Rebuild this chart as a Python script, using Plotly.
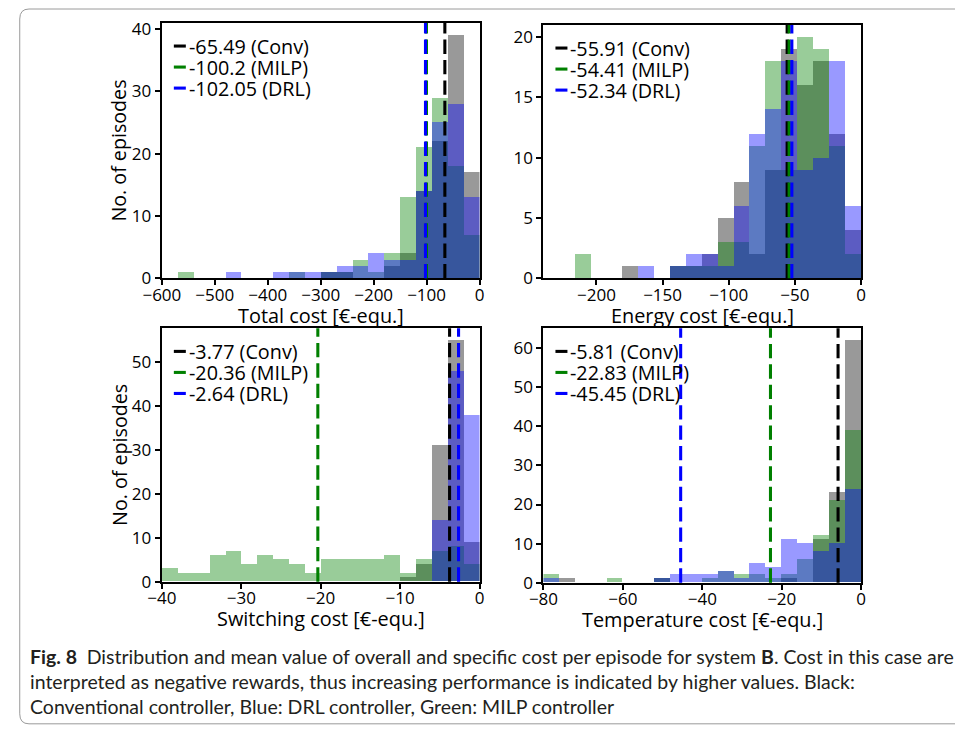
import numpy as np
import plotly.graph_objects as go

# ---- histogram data: 20 equal bins between the lower limit and 0 ----
total_limits = (-600, 0)
energy_limits = (-240, 0)
switch_limits = (-40, 0)
temp_limits = (-80, 0)

# episode counts per bin (left to right)
total_conv = [0, 0, 0, 0, 0, 0, 0, 0, 0, 0, 1, 1, 0, 0, 2, 4, 14, 22, 39, 17]
total_milp = [0, 1, 0, 0, 0, 0, 0, 0, 1, 0, 1, 1, 3, 1, 4, 13, 21, 29, 18, 7]
total_drl = [0, 0, 0, 0, 1, 0, 0, 1, 1, 1, 1, 2, 2, 4, 3, 3, 14, 25, 28, 13]

energy_conv = [0, 0, 0, 0, 0, 1, 0, 0, 1, 1, 2, 5, 8, 2, 9, 19, 16, 18, 12, 4]
energy_milp = [0, 0, 2, 0, 0, 0, 0, 0, 1, 1, 1, 3, 3, 11, 18, 9, 20, 19, 11, 2]
energy_drl = [0, 0, 0, 0, 0, 0, 1, 0, 1, 2, 2, 1, 6, 12, 14, 18, 9, 10, 18, 6]

switch_conv = [0, 0, 0, 0, 0, 0, 0, 0, 0, 0, 0, 0, 0, 0, 0, 1, 4, 31, 55, 9]
switch_milp = [3, 2, 2, 6, 7, 4, 6, 5, 4, 2, 5, 5, 5, 5, 6, 2, 5, 7, 8, 4]
switch_drl = [0, 0, 0, 0, 0, 0, 0, 0, 0, 0, 0, 0, 0, 0, 0, 0, 0, 14, 48, 38]

temp_conv = [0, 1, 0, 0, 0, 0, 0, 1, 0, 0, 0, 0, 0, 0, 0, 1, 0, 11, 23, 62]
temp_milp = [2, 0, 0, 0, 1, 0, 0, 1, 0, 0, 1, 3, 2, 2, 1, 2, 6, 12, 21, 39]
temp_drl = [1, 0, 0, 0, 0, 0, 0, 1, 2, 2, 2, 3, 1, 5, 4, 11, 10, 8, 10, 24]

# mean cost per controller (Conv, MILP, DRL)
total_means = [-65.49, -100.2, -102.05]
energy_means = [-55.91, -54.41, -52.34]
switch_means = [-3.77, -20.36, -2.64]
temp_means = [-5.81, -22.83, -45.45]

controller_names = ["Conv", "MILP", "DRL"]
x_titles = ["Total cost [€-equ.]", "Energy cost [€-equ.]",
            "Switching cost [€-equ.]", "Temperature cost [€-equ.]"]
y_title = "No. of episodes"
x_dticks = [100, 50, 10, 20]
y_dticks = [10, 5, 10, 10]

caption_lines = [
    "<b>Fig. 8</b>\u2002Distribution and mean value of overall and specific cost per episode "
    "for system <b>B</b>. Cost in this case are",
    "interpreted as negative rewards, thus increasing performance is indicated by higher values. Black:",
    "Conventional controller, Blue: DRL controller, Green: MILP controller",
]

# ---- layout geometry ----
# design coordinates (dx, dy) are mapped onto the figure canvas with a
# uniform scale and offset
SCALE, OFF_X, OFF_Y = 0.976, 18.0, 5.0
W, H = 960, 743


def cx(dx):
    return (dx - OFF_X) / SCALE


def cy(dy):
    return (dy - OFF_Y) / SCALE


def px_(dx):
    return cx(dx) / W


def py_(dy):
    return 1 - cy(dy) / H


def s(v):
    return v / SCALE


FONT = "Open Sans"
CAP_FONT = "Lato"
bar_colors = ["rgba(0,0,0,0.4)", "rgba(0,128,0,0.4)", "rgba(0,0,255,0.4)"]
line_colors = ["black", "green", "blue"]

# plot boxes in design pixels: left, top, right, bottom
boxes = [(161, 22, 479, 277), (543, 24, 861, 277),
         (161, 327, 479, 580), (543, 327, 861, 581)]

panels = [
    (total_limits, [total_conv, total_milp, total_drl], total_means),
    (energy_limits, [energy_conv, energy_milp, energy_drl], energy_means),
    (switch_limits, [switch_conv, switch_milp, switch_drl], switch_means),
    (temp_limits, [temp_conv, temp_milp, temp_drl], temp_means),
]

fig = go.Figure()
shapes = []
annotations = []

for k, ((lo, hi), series, means) in enumerate(panels):
    sfx = "" if k == 0 else str(k + 1)
    xa, ya = "x" + sfx, "y" + sfx
    edges = np.linspace(lo, hi, len(series[0]) + 1)
    centers = (edges[:-1] + edges[1:]) / 2
    width = edges[1] - edges[0]
    for counts, col in zip(series, bar_colors):
        fig.add_trace(go.Bar(x=centers, y=counts, width=width, marker_color=col,
                             marker_line_width=0, xaxis=xa, yaxis=ya,
                             showlegend=False))
    ymax = max(max(v) for v in series) * 1.05

    left, top, right, bottom = boxes[k]
    axis_style = dict(
        showline=True, mirror=True, linecolor="black", linewidth=s(2),
        ticks="outside", ticklen=s(5), tickwidth=s(1.5), tickcolor="black",
        showgrid=False, zeroline=False,
        tickfont=dict(family=FONT, size=s(16.6), color="black"))
    fig.layout["xaxis" + sfx] = dict(
        domain=[px_(left), px_(right)], anchor=ya, range=[lo, hi], dtick=x_dticks[k],
        ticklabelstandoff=-5, **axis_style)
    fig.layout["yaxis" + sfx] = dict(
        domain=[py_(bottom), py_(top)], anchor=xa, range=[0, ymax],
        dtick=y_dticks[k], **axis_style)

    # dashed mean lines
    for m, col in zip(means, line_colors):
        shapes.append(dict(type="line", xref=xa, yref=ya + " domain",
                           x0=m, x1=m, y0=0, y1=1,
                           line=dict(color=col, width=s(3),
                                     dash=f"{s(14):.1f}px,{s(6):.1f}px")))

    # legend: short handle + label
    pw, ph = right - left, bottom - top
    for j, (m, col, name) in enumerate(zip(means, line_colors, controller_names)):
        yy = 1 - (23 + 21 * j) / ph
        shapes.append(dict(type="line", xref=xa + " domain", yref=ya + " domain",
                           x0=12 / pw, x1=24 / pw, y0=yy, y1=yy,
                           line=dict(color=col, width=s(3))))
        annotations.append(dict(xref=xa + " domain", yref=ya + " domain",
                                x=25 / pw, y=yy, xanchor="left", yanchor="middle",
                                text=f"{m} ({name})", showarrow=False,
                                font=dict(family=FONT, size=s(19.3), color="black")))

    # axis titles
    annotations.append(dict(xref="paper", yref="paper", x=px_((left + right) / 2),
                            y=py_(bottom + 37), xanchor="center", yanchor="middle",
                            text=x_titles[k], showarrow=False,
                            font=dict(family=FONT, size=s(19.4), color="black")))
    if k in (0, 2):
        annotations.append(dict(xref="paper", yref="paper", x=px_(118),
                                y=py_((top + bottom) / 2), xanchor="center",
                                yanchor="middle", textangle=-90, text=y_title,
                                showarrow=False,
                                font=dict(family=FONT, size=s(19.2), color="black")))

# caption
for i, line in enumerate(caption_lines):
    annotations.append(dict(xref="paper", yref="paper", x=px_(27), y=py_(655 + 25 * i),
                            xanchor="left", yanchor="middle", text=line, showarrow=False,
                            font=dict(family=CAP_FONT, size=19.5, color="#231f20")))


# rounded frame around figure and caption
def pt(dx, dy):
    return f"{max(px_(dx), 0.0008):.5f},{py_(dy):.5f}"


frame = (f"M {pt(960, 8)} L {pt(28, 8)} Q {pt(18, 8)} {pt(18, 18)} "
         f"L {pt(18, 712)} Q {pt(18, 722)} {pt(28, 722)} L {pt(960, 722)}")
shapes.append(dict(type="path", xref="paper", yref="paper", path=frame,
                   line=dict(color="#9a9a9a", width=1)))

fig.update_layout(
    width=W, height=H, margin=dict(l=0, r=0, t=0, b=0),
    paper_bgcolor="white", plot_bgcolor="white",
    barmode="overlay", bargap=0,
    shapes=shapes, annotations=annotations, showlegend=False,
)

fig.write_html("out.html")
